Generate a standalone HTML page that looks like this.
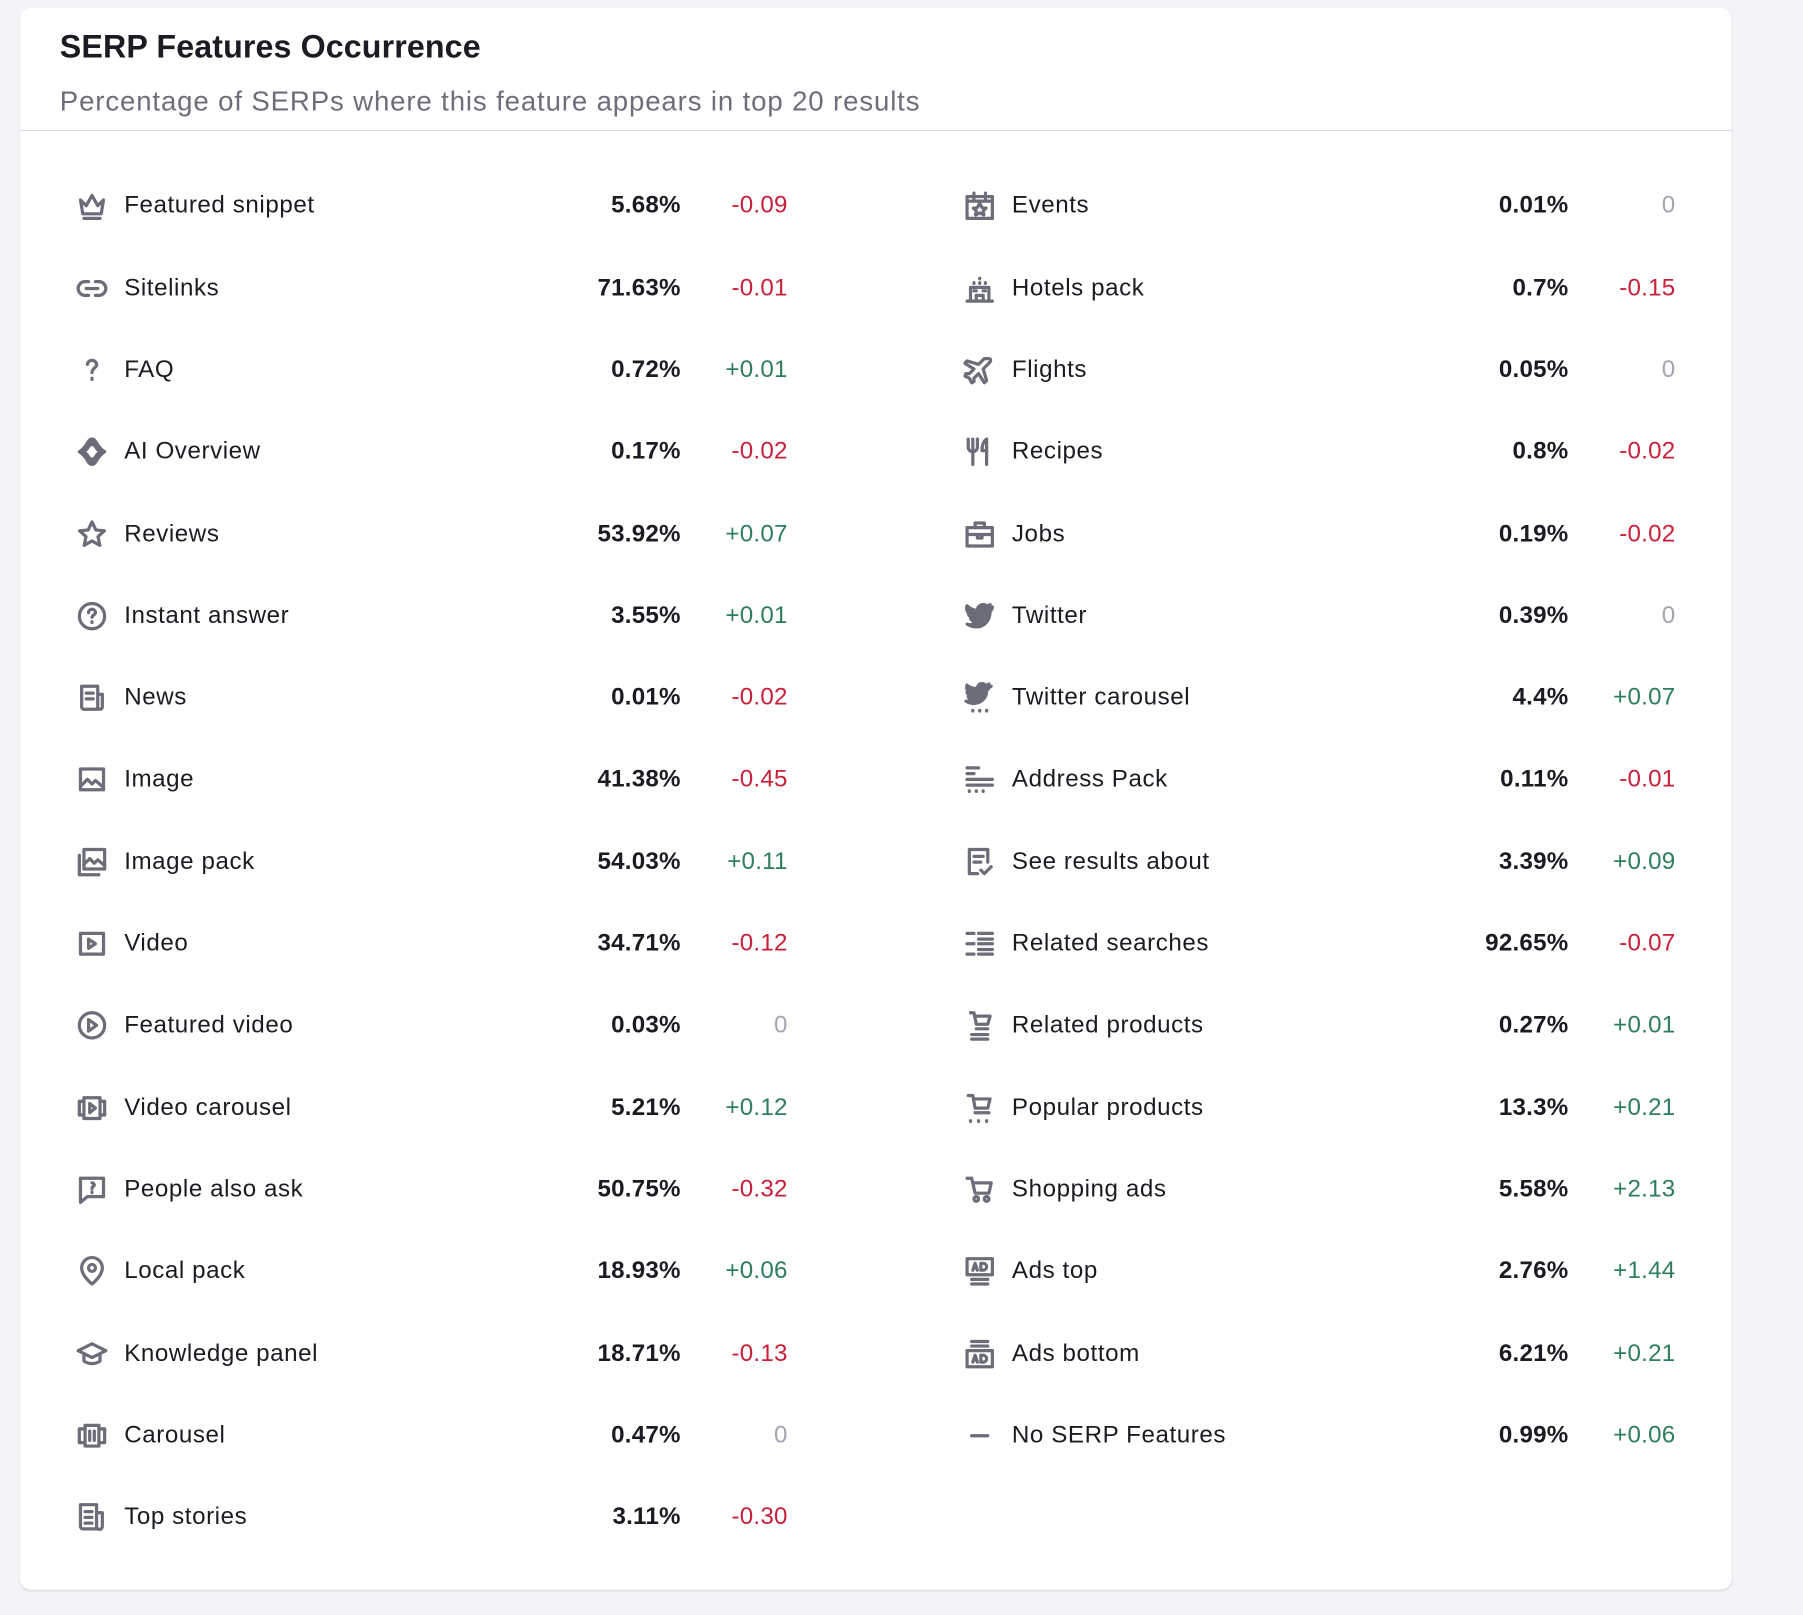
<!DOCTYPE html>
<html><head><meta charset="utf-8">
<style>
html,body{margin:0;padding:0;background:#f3f4f8;}
body{width:1803px;height:1615px;overflow:hidden;font-family:"Liberation Sans",sans-serif;color:#1b1c22;}
#w{position:absolute;left:0;top:0;width:1568px;height:1405px;transform:scale(1.1499,1.1495);transform-origin:0 0;}
.card{position:absolute;left:17px;top:7px;width:1489px;height:1376px;background:#fff;border-radius:10px;box-shadow:0 1px 2px rgba(0,0,0,.12);}
.t{position:absolute;left:35px;top:18px;font-size:28px;font-weight:bold;letter-spacing:0.1px;}
.s{position:absolute;left:35px;top:68px;font-size:24px;color:#6c6e79;letter-spacing:0.75px;}
.hr{position:absolute;left:0;right:0;top:106px;height:1px;background:#dcdde3;}
.col{position:absolute;top:137.35px;width:625px;}
.r{position:relative;height:71.31px;font-size:21px;}
.r svg{position:absolute;left:6px;top:21px;width:28px;height:28px;}
.l{position:absolute;left:48px;top:23px;letter-spacing:0.5px;}
.v{position:absolute;right:93px;top:23px;font-weight:bold;letter-spacing:0.2px;}
.d{position:absolute;right:0;top:23px;letter-spacing:0.2px;}
.n{color:#c8203a}.p{color:#2e7d5b}.z{color:#a3a5ae}
svg *{fill:none;stroke:#6b6d78;stroke-width:2.8;stroke-linejoin:round;stroke-linecap:round}
</style></head><body><div id="w"><div class="card">
<div class="t">SERP Features Occurrence</div>
<div class="s">Percentage of SERPs where this feature appears in top 20 results</div>
<div class="hr"></div>

<div class="col" style="left:43px">
<div class="r"><svg viewBox="0 0 28 28"><path d="M4 9l5 5 5-9 5 9 5-5-2 12H6z"/><path d="M7 25h14"/></svg><span class="l">Featured snippet</span><span class="v">5.68%</span><span class="d n">-0.09</span></div>
<div class="r"><svg viewBox="0 0 28 28"><path d="M11 8H8a6 6 0 000 12h3M17 8h3a6 6 0 010 12h-3M9 14h10"/></svg><span class="l">Sitelinks</span><span class="v">71.63%</span><span class="d n">-0.01</span></div>
<div class="r"><svg viewBox="0 0 28 28"><path d="M10 9a4 4 0 118 1c-1 2-4 3-4 6M14 21v1"/></svg><span class="l">FAQ</span><span class="v">0.72%</span><span class="d p">+0.01</span></div>
<div class="r"><svg viewBox="0 0 28 28"><path d="M14 3c4 0 4 7 11 11-7 4-7 11-11 11s-4-7-11-11c7-4 7-11 11-11z" style="fill:#6b6d78"/><path d="M14 9c2 0 2 3 5 5-3 2-3 5-5 5s-2-3-5-5c3-2 3-5 5-5z" style="fill:#fff;stroke:none"/></svg><span class="l">AI Overview</span><span class="v">0.17%</span><span class="d n">-0.02</span></div>
<div class="r"><svg viewBox="0 0 28 28"><path d="M14 3l3.3 7 7.5.8-5.6 5 1.6 7.6L14 19.6l-6.8 3.8 1.6-7.6-5.6-5 7.5-.8z"/></svg><span class="l">Reviews</span><span class="v">53.92%</span><span class="d p">+0.07</span></div>
<div class="r"><svg viewBox="0 0 28 28"><circle cx="14" cy="14" r="11"/><path d="M11 11a3 3 0 116 0c0 2-3 2-3 4M14 19v.5"/></svg><span class="l">Instant answer</span><span class="v">3.55%</span><span class="d p">+0.01</span></div>
<div class="r"><svg viewBox="0 0 28 28"><path d="M5 4h14v20H7a2 2 0 01-2-2zM19 11h4v11a2 2 0 01-4 0M9 10h6M9 15h6"/></svg><span class="l">News</span><span class="v">0.01%</span><span class="d n">-0.02</span></div>
<div class="r"><svg viewBox="0 0 28 28"><rect x="4" y="5" width="20" height="18"/><path d="M4 20l6-6 4 4 3-3 7 6"/></svg><span class="l">Image</span><span class="v">41.38%</span><span class="d n">-0.45</span></div>
<div class="r"><svg viewBox="0 0 28 28"><rect x="7" y="3" width="18" height="17"/><path d="M3 8v17h17M7 16l5-5 4 4 3-3 6 5"/></svg><span class="l">Image pack</span><span class="v">54.03%</span><span class="d p">+0.11</span></div>
<div class="r"><svg viewBox="0 0 28 28"><rect x="4" y="5" width="20" height="18"/><path d="M11 10l6 4-6 4z"/></svg><span class="l">Video</span><span class="v">34.71%</span><span class="d n">-0.12</span></div>
<div class="r"><svg viewBox="0 0 28 28"><circle cx="14" cy="14" r="11"/><path d="M11 9l7 5-7 5z"/></svg><span class="l">Featured video</span><span class="v">0.03%</span><span class="d z">0</span></div>
<div class="r"><svg viewBox="0 0 28 28"><rect x="7" y="5" width="14" height="18"/><path d="M7 8H3v12h4M21 8h4v12h-4M12 10l5 4-5 4z"/></svg><span class="l">Video carousel</span><span class="v">5.21%</span><span class="d p">+0.12</span></div>
<div class="r"><svg viewBox="0 0 28 28"><path d="M4 4h20v16H10l-6 5zM14 8a2 2 0 012 2c0 1-2 1-2 3M14 16v.5"/></svg><span class="l">People also ask</span><span class="v">50.75%</span><span class="d n">-0.32</span></div>
<div class="r"><svg viewBox="0 0 28 28"><path d="M14 25s-9-7-9-14a9 9 0 0118 0c0 7-9 14-9 14z"/><circle cx="14" cy="11" r="3"/></svg><span class="l">Local pack</span><span class="v">18.93%</span><span class="d p">+0.06</span></div>
<div class="r"><svg viewBox="0 0 28 28"><path d="M2 11l12-6 12 6-12 6zM7 14v6c4 3 10 3 14 0v-6"/></svg><span class="l">Knowledge panel</span><span class="v">18.71%</span><span class="d n">-0.13</span></div>
<div class="r"><svg viewBox="0 0 28 28"><rect x="8" y="5" width="12" height="18"/><path d="M8 8H3v12h5M20 8h5v12h-5M12 10v8M16 10v8"/></svg><span class="l">Carousel</span><span class="v">0.47%</span><span class="d z">0</span></div>
<div class="r"><svg viewBox="0 0 28 28"><path d="M4 3h14v21H6a2 2 0 01-2-2zM18 10h5v12a2 2 0 01-5 0M8 9h6M8 14h6M8 19h6"/></svg><span class="l">Top stories</span><span class="v">3.11%</span><span class="d n">-0.30</span></div>
</div>

<div class="col" style="left:815px">
<div class="r"><svg viewBox="0 0 28 28"><rect x="3" y="6" width="22" height="19"/><path d="M3 10h22M9 3v5M19 3v5M14 12l2 3.5 3.5.5-2.5 2.5.6 3.5-3.6-1.8-3.6 1.8.6-3.5-2.5-2.5 3.5-.5z"/></svg><span class="l">Events</span><span class="v">0.01%</span><span class="d z">0</span></div>
<div class="r"><svg viewBox="0 0 28 28"><path d="M3 25h22M6 25V13h16v12M11 25v-5h6v5M9 9v.5M14 5v.5M19 9v.5M14 9v.5M9 16h2M17 16h2"/></svg><span class="l">Hotels pack</span><span class="v">0.7%</span><span class="d n">-0.15</span></div>
<div class="r"><svg viewBox="0 0 28 28"><path d="M22 4c2 0 2 2 0 4l-5 5 3 10-2 2-5-8-4 4v3l-2 1-2-4-4-2 1-2h3l4-4-8-5 2-2 10 3 5-5z"/></svg><span class="l">Flights</span><span class="v">0.05%</span><span class="d z">0</span></div>
<div class="r"><svg viewBox="0 0 28 28"><path d="M4 3v7a4 4 0 008 0V3M8 3v22M20 25V3c-3 2-4 6-4 10h4"/></svg><span class="l">Recipes</span><span class="v">0.8%</span><span class="d n">-0.02</span></div>
<div class="r"><svg viewBox="0 0 28 28"><rect x="3" y="8" width="22" height="16"/><path d="M10 8V4h8v4M3 14h22M12 14v3h4v-3"/></svg><span class="l">Jobs</span><span class="v">0.19%</span><span class="d n">-0.02</span></div>
<div class="r"><svg viewBox="0 0 28 28"><path d="M25 6c-1 1-2 1-3 1 1-1 1-2 1-3-1 1-2 1-3 1a5 5 0 00-8 4C8 9 5 7 3 5c-1 3 0 6 3 7-1 0-2 0-2-1 0 2 2 4 4 5-1 0-2 0-2 0 1 2 3 3 5 3-2 2-5 3-8 2 10 6 20 0 20-11 1-1 2-2 2-4z" style="fill:#6b6d78"/></svg><span class="l">Twitter</span><span class="v">0.39%</span><span class="d z">0</span></div>
<div class="r"><svg viewBox="0 0 28 28"><path d="M24 4c-1 1-2 1-3 1 1-1 1-2 1-3-1 1-2 1-3 1a4 4 0 00-7 3C8 6 5 5 3 3c-1 2 0 5 2 6H3c0 2 2 3 3 4H4c1 2 3 2 4 2-2 2-4 2-6 2 8 5 18 0 18-9 1-1 2-2 2-3z" style="fill:#6b6d78"/><path d="M8 25v.5M14 25v.5M20 25v.5"/></svg><span class="l">Twitter carousel</span><span class="v">4.4%</span><span class="d p">+0.07</span></div>
<div class="r"><svg viewBox="0 0 28 28"><path d="M3 4h10M3 9h6M3 14h22M3 19h22M5 24v.5M11 24v.5M17 24v.5"/></svg><span class="l">Address Pack</span><span class="v">0.11%</span><span class="d n">-0.01</span></div>
<div class="r"><svg viewBox="0 0 28 28"><path d="M12 24H5V3h16v11M9 9h8M9 14h6M15 21l3 3 6-6"/></svg><span class="l">See results about</span><span class="v">3.39%</span><span class="d p">+0.09</span></div>
<div class="r"><svg viewBox="0 0 28 28"><path d="M3 5h6M3 14h6M3 23h6M13 5h12M13 10h12M13 14h12M13 19h12M13 23h12"/></svg><span class="l">Related searches</span><span class="v">92.65%</span><span class="d n">-0.07</span></div>
<div class="r"><svg viewBox="0 0 28 28"><path d="M6 3h3l2 10h10l2-7H10M11 17h10M7 22h14M7 26h14"/></svg><span class="l">Related products</span><span class="v">0.27%</span><span class="d p">+0.01</span></div>
<div class="r"><svg viewBox="0 0 28 28"><path d="M4 3h4l2 11h11l2-8H9M10 18h12M6 25v.5M13 25v.5M20 25v.5"/></svg><span class="l">Popular products</span><span class="v">13.3%</span><span class="d p">+0.21</span></div>
<div class="r"><svg viewBox="0 0 28 28"><path d="M3 4h4l3 13h12l2-9H8"/><circle cx="11" cy="22" r="2"/><circle cx="20" cy="22" r="2"/></svg><span class="l">Shopping ads</span><span class="v">5.58%</span><span class="d p">+2.13</span></div>
<div class="r"><svg viewBox="0 0 28 28"><rect x="3" y="3" width="22" height="14"/><path d="M7 21h14M7 25h14M8 13l2-6 2 6M9 11h2M15 7v6h2a3 3 0 000-6z"/></svg><span class="l">Ads top</span><span class="v">2.76%</span><span class="d p">+1.44</span></div>
<div class="r"><svg viewBox="0 0 28 28"><rect x="3" y="11" width="22" height="14"/><path d="M7 3h14M7 7h14M8 21l2-6 2 6M9 19h2M15 15v6h2a3 3 0 000-6z"/></svg><span class="l">Ads bottom</span><span class="v">6.21%</span><span class="d p">+0.21</span></div>
<div class="r"><svg viewBox="0 0 28 28"><path d="M7 14h14"/></svg><span class="l">No SERP Features</span><span class="v">0.99%</span><span class="d p">+0.06</span></div>
</div>
</div></div></body></html>
